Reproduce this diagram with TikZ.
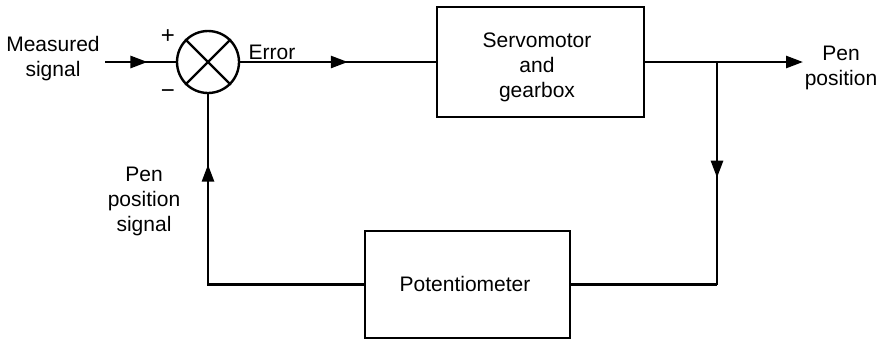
\documentclass[tikz,border=0pt]{standalone}
\usepackage{fontspec}
\setmainfont{Liberation Sans}
\usetikzlibrary{arrows.meta,decorations.markings}
\begin{document}
\begin{tikzpicture}[x=1pt,y=-1pt,
  line width=2.6pt,
  every node/.style={font=\fontsize{21}{25}\selectfont},
  lbl/.style={align=center,inner sep=0pt},
  blk/.style={draw,rectangle,line width=2.2pt,inner sep=0pt},
  myhead/.tip={Triangle[length=17pt,width=12pt]},
  midarr/.style={postaction={decorate},decoration={markings,mark=at position #1 with {\arrow{myhead}}}}
]
\useasboundingbox (0,0) rectangle (882,341);
\node[draw,circle,minimum size=62pt,inner sep=0pt,line width=2.4pt] (sum) at (208,62) {};
\draw[line width=2.4pt] (sum.45) -- (sum.225);
\draw[line width=2.4pt] (sum.135) -- (sum.315);
\node[blk,minimum width=207pt,minimum height=110pt] (servo) at (540.5,62) {};
\node[blk,minimum width=205pt,minimum height=107pt] (pot) at (467.5,284.5) {};
\node[lbl] (servotxt) at (537,67) {Servomotor\\and\\gearbox};
\node[lbl] (pottxt) at (465,284) {Potentiometer};
\coordinate (in) at (105,62);
\coordinate (out) at (803,62);
\coordinate (br) at (717,62);
\coordinate (brb) at (717,284.5);
\coordinate (bl) at (208,284.5);
\node[lbl] (meas) at (53,59) {Measured\\signal};
\node[lbl] (err) at (272,52) {Error};
\node[lbl] (penpos) at (841,68) {Pen\\position};
\node[lbl] (pps) at (144,201) {Pen\\position\\signal};
\node[lbl,font=\fontsize{24}{28}\selectfont] (plus) at (168,37) {+};
\node[lbl,font=\fontsize{24}{28}\selectfont] (minus) at (168,94) {−};
\draw[midarr=0.6] (in) -- (sum.west);
\draw[midarr=0.55] (sum.east) -- (servo.west);
\draw[-{myhead}] (servo.east) -- (out);
\draw[midarr=0.52] (br) -- (brb);
\draw (brb) -- (pot.east);
\draw (pot.west) -| (sum.south);
\draw[midarr=0.63] (bl) -- (sum.south);
\end{tikzpicture}
\end{document}
